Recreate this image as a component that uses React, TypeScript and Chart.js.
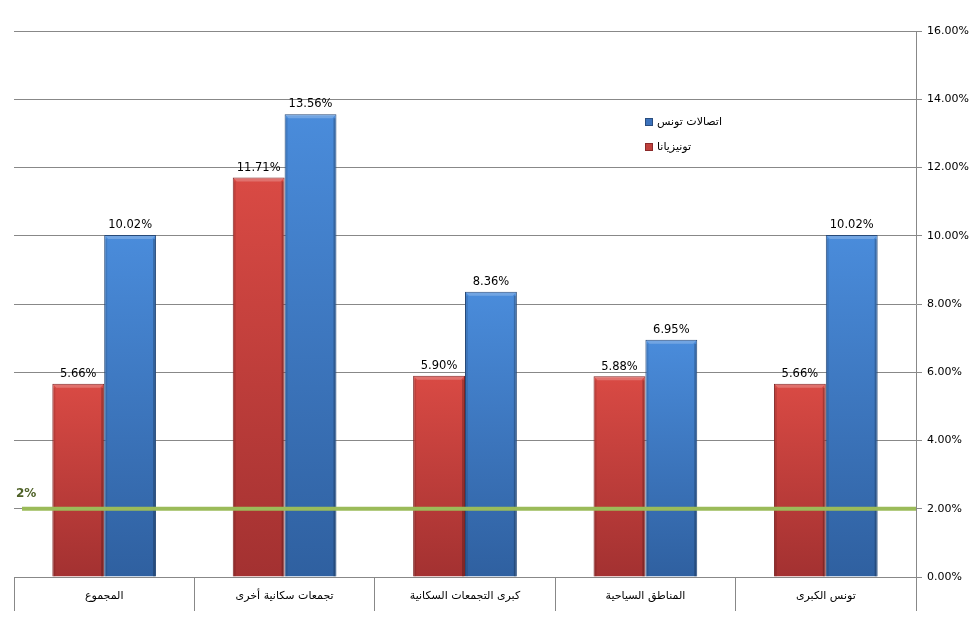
import { useEffect, useRef } from "react";
import { Chart, registerables } from "chart.js";

Chart.register(...registerables);

const categories = [
  "المجموع",
  "تجمعات سكانية أخرى",
  "كبرى التجمعات السكانية",
  "المناطق السياحية",
  "تونس الكبرى",
];
const tunisianaValues = [5.66, 11.71, 5.9, 5.88, 5.66];
const tunisieTelecomValues = [10.02, 13.56, 8.36, 6.95, 10.02];
const seriesNames = ["تونيزيانا", "اتصالات تونس"];
const thresholdValue = 2;
const thresholdLabel = "2%";

const barGradient = (top: string, bottom: string) => (ctx: any) => {
  const chart = ctx.chart;
  const y = chart.scales?.y;
  if (!chart.chartArea || !y || ctx.parsed == null) return bottom;
  const yTop = y.getPixelForValue(ctx.parsed.y);
  const yBottom = y.getPixelForValue(0);
  const g = chart.ctx.createLinearGradient(0, yTop, 0, yBottom);
  g.addColorStop(0, top);
  g.addColorStop(1, bottom);
  return g;
};

// bevel-ish shading on the bars, like the office chart
const barBevel = {
  id: "barBevel",
  afterDatasetsDraw(chart: Chart) {
    const { ctx } = chart;
    ctx.save();
    chart.data.datasets.forEach((_ds, i) => {
      chart.getDatasetMeta(i).data.forEach((bar: any) => {
        const { x, y, base, width } = bar.getProps(["x", "y", "base", "width"], true);
        const l = x - width / 2;
        const r = x + width / 2;
        const h = base - y;
        ctx.fillStyle = "rgba(255,255,255,0.22)";
        ctx.beginPath();
        ctx.moveTo(l + 1, y + 1);
        ctx.lineTo(r - 1, y + 1);
        ctx.lineTo(r - 4, y + 4);
        ctx.lineTo(l + 4, y + 4);
        ctx.closePath();
        ctx.fill();
        ctx.fillStyle = "rgba(0,0,0,0.10)";
        ctx.fillRect(l + 1, y + 4, 2, h - 4);
        ctx.fillStyle = "rgba(0,0,0,0.22)";
        ctx.fillRect(r - 3, y + 4, 2, h - 4);
      });
    });
    ctx.restore();
  },
};

// value labels above the bars
const valueLabels = {
  id: "valueLabels",
  afterDatasetsDraw(chart: Chart) {
    const { ctx } = chart;
    ctx.save();
    ctx.font = "11.5px 'DejaVu Sans', sans-serif";
    ctx.fillStyle = "#000";
    ctx.textAlign = "center";
    ctx.textBaseline = "bottom";
    chart.data.datasets.forEach((ds, i) => {
      const meta = chart.getDatasetMeta(i);
      meta.data.forEach((bar: any, j) => {
        const v = ds.data[j] as number;
        ctx.fillText(v.toFixed(2) + "%", bar.x, bar.y - 4);
      });
    });
    ctx.restore();
  },
};

// green 2% reference line
const thresholdLine = {
  id: "thresholdLine",
  afterDatasetsDraw(chart: Chart) {
    const { ctx, chartArea } = chart;
    const y = chart.scales.y.getPixelForValue(thresholdValue);
    ctx.save();
    ctx.strokeStyle = "#9BBB59";
    ctx.lineWidth = 4;
    ctx.beginPath();
    ctx.moveTo(chartArea.left + 8, y);
    ctx.lineTo(chartArea.right, y);
    ctx.stroke();
    ctx.font = "bold 12px 'DejaVu Sans', sans-serif";
    ctx.fillStyle = "#4F6228";
    ctx.textAlign = "left";
    ctx.textBaseline = "bottom";
    ctx.fillText(thresholdLabel, chartArea.left + 2, y - 9);
    ctx.restore();
  },
};

// legend inside the plot area
const innerLegend = {
  id: "innerLegend",
  afterDraw(chart: Chart) {
    const { ctx } = chart;
    const items = [
      { text: seriesNames[1], color: "#3C72BC", border: "#2A4D7E", y: 122 },
      { text: seriesNames[0], color: "#C0403C", border: "#8B2A2A", y: 147 },
    ];
    ctx.save();
    ctx.font = "11px 'DejaVu Sans', sans-serif";
    ctx.textBaseline = "middle";
    ctx.textAlign = "left";
    items.forEach((it) => {
      ctx.fillStyle = it.color;
      ctx.fillRect(645, it.y - 4, 8, 8);
      ctx.strokeStyle = it.border;
      ctx.lineWidth = 1;
      ctx.strokeRect(645.5, it.y - 3.5, 7, 7);
      ctx.fillStyle = "#000";
      ctx.fillText(it.text, 657, it.y);
    });
    ctx.restore();
  },
};

export default function App() {
  const canvasRef = useRef<HTMLCanvasElement>(null);
  const chartRef = useRef<Chart | null>(null);

  useEffect(() => {
    if (!canvasRef.current) return;
    if (chartRef.current) chartRef.current.destroy();

    chartRef.current = new Chart(canvasRef.current, {
      type: "bar",
      data: {
        labels: categories,
        datasets: [
          {
            label: seriesNames[0],
            data: tunisianaValues,
            backgroundColor: barGradient("#D94A44", "#A33131"),
            borderColor: "#7E2626",
            borderWidth: 1,
          },
          {
            label: seriesNames[1],
            data: tunisieTelecomValues,
            backgroundColor: barGradient("#4A8CDB", "#2F60A0"),
            borderColor: "#284A78",
            borderWidth: 1,
          },
        ],
      },
      options: {
        responsive: true,
        maintainAspectRatio: false,
        animation: false,
        layout: { padding: { left: 14, top: 31, right: 0, bottom: 0 } },
        plugins: {
          legend: { display: false },
          tooltip: { enabled: false },
        },
        datasets: {
          bar: { categoryPercentage: 0.575, barPercentage: 1 },
        },
        scales: {
          x: {
            offset: true,
            grid: {
              offset: true,
              drawOnChartArea: false,
              drawTicks: true,
              tickLength: 34,
              color: "#888",
            },
            border: { color: "#888" },
            ticks: {
              padding: -21,
              color: "#000",
              font: { family: "'DejaVu Sans', sans-serif", size: 11 },
              maxRotation: 0,
              autoSkip: false,
            },
            afterFit: (scale: any) => {
              scale.height = 63;
            },
          },
          y: {
            position: "right",
            min: 0,
            max: 16,
            ticks: {
              stepSize: 2,
              padding: 5,
              color: "#000",
              font: { family: "'DejaVu Sans', sans-serif", size: 11 },
              callback: (v: any) => Number(v).toFixed(2) + "%",
            },
            grid: { color: "#888", tickLength: 6 },
            border: { color: "#888" },
            afterFit: (scale: any) => {
              scale.width = 63;
            },
          },
        },
      },
      plugins: [barBevel, thresholdLine, valueLabels, innerLegend],
    });

    return () => {
      if (chartRef.current) {
        chartRef.current.destroy();
        chartRef.current = null;
      }
    };
  }, []);

  return (
    <div style={{ position: "absolute", left: 0, top: 0, width: 979, height: 640, background: "#fff" }}>
      <canvas ref={canvasRef}></canvas>
    </div>
  );
}
